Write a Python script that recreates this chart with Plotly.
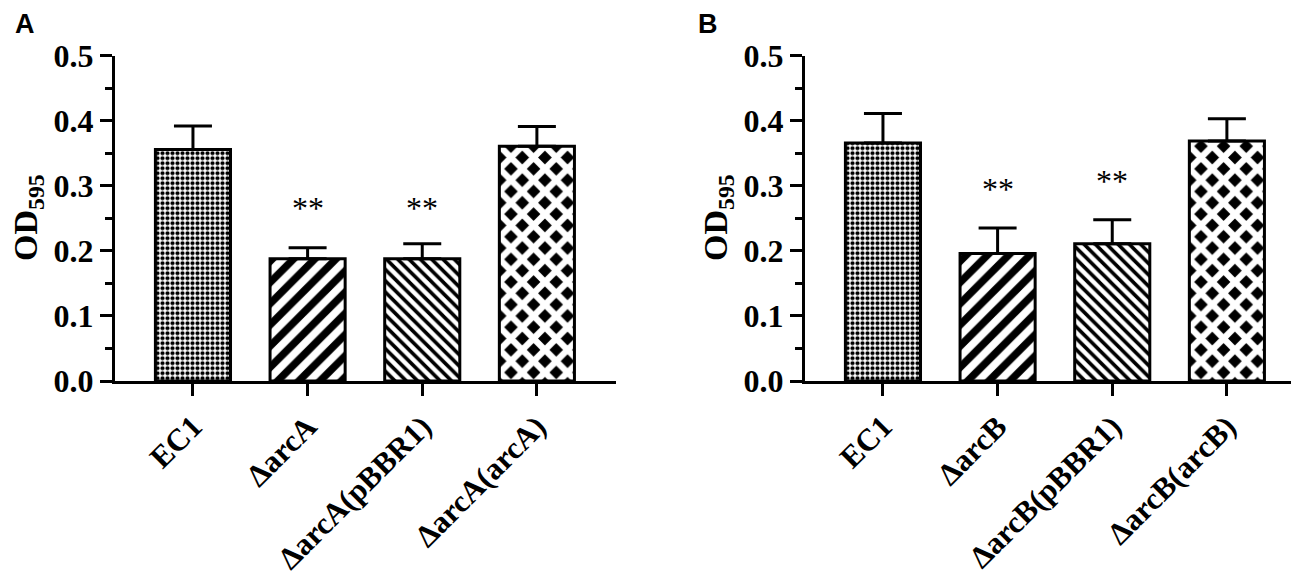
import plotly.graph_objects as go

# ---- data ----
labels_a = ["EC1", "ΔarcA", "ΔarcA(pBBR1)", "ΔarcA(arcA)"]
values_a = [0.356, 0.188, 0.188, 0.361]
errors_a = [0.036, 0.017, 0.023, 0.030]
stars_a = ["", "**", "**", ""]
star_y_a = [None, 0.262, 0.262, None]

labels_b = ["EC1", "ΔarcB", "ΔarcB(pBBR1)", "ΔarcB(arcB)"]
values_b = [0.366, 0.196, 0.211, 0.369]
errors_b = [0.045, 0.039, 0.037, 0.034]
stars_b = ["", "**", "**", ""]
star_y_b = [None, 0.290, 0.303, None]

y_ticks = [0.0, 0.1, 0.2, 0.3, 0.4, 0.5]
y_ticktext = ["0.0", "0.1", "0.2", "0.3", "0.4", "0.5"]

W, H = 1299, 580
SERIF = "Liberation Serif, Times New Roman, serif"

patterns = [
    dict(shape=".", size=5, solidity=0.55, fgcolor="black", bgcolor="white", fillmode="replace"),
    dict(shape="/", size=15, solidity=0.5, fgcolor="black", bgcolor="white", fillmode="replace"),
    dict(shape="\\", size=8, solidity=0.45, fgcolor="black", bgcolor="white", fillmode="replace"),
    dict(shape="x", size=16, solidity=0.64, fgcolor="white", bgcolor="black", fillmode="replace"),
]

fig = go.Figure()

def add_panel(labels, values, errors, xa, ya):
    for i, (lab, v, e) in enumerate(zip(labels, values, errors)):
        fig.add_trace(go.Bar(
            x=[i], y=[v], width=0.655,
            marker=dict(color="white", pattern=patterns[i],
                        line=dict(color="black", width=3)),
            error_y=dict(type="data", symmetric=False, array=[e], arrayminus=[0],
                         color="black", thickness=3, width=19),
            xaxis=xa, yaxis=ya, showlegend=False, hoverinfo="skip",
        ))

add_panel(labels_a, values_a, errors_a, "x", "y")
add_panel(labels_b, values_b, errors_b, "x2", "y2")

ydom = [1 - 373 / H, 1 - 47.7 / H]
xdom_a = [107 / W, 608 / W]
xdom_b = [797 / W, 1298 / W]

def xaxis_cfg(dom, labels):
    return dict(domain=dom, range=[-0.68, 3.69], tickvals=[0, 1, 2, 3], ticktext=labels,
                tickangle=-45, showline=True, linecolor="black", linewidth=3,
                ticks="outside", ticklen=12, tickwidth=3, tickcolor="black",
                showgrid=False, zeroline=False, automargin=False, fixedrange=True,
                tickfont=dict(family=SERIF, size=31, color="black", weight="bold"))

def yaxis_cfg(anchor):
    return dict(domain=ydom, range=[0, 0.5], tickvals=y_ticks, ticktext=y_ticktext,
                showline=True, linecolor="black", linewidth=3,
                ticks="outside", ticklen=12, tickwidth=3, tickcolor="black",
                minor=dict(dtick=0.05, ticks="outside", ticklen=7, tickwidth=3,
                           tickcolor="black", showgrid=False),
                showgrid=False, zeroline=False, automargin=False, fixedrange=True,
                anchor=anchor,
                tickfont=dict(family=SERIF, size=32, color="black", weight="bold"))

fig.update_layout(
    width=W, height=H, margin=dict(l=0, r=0, t=0, b=0),
    paper_bgcolor="white", plot_bgcolor="white", bargap=0.3,
    xaxis=xaxis_cfg(xdom_a, labels_a), yaxis=yaxis_cfg("x"),
    xaxis2=dict(xaxis_cfg(xdom_b, labels_b), anchor="y2"),
    yaxis2=yaxis_cfg("x2"),
)
fig.layout.xaxis.anchor = "y"

ann = []
for i, (s, yy) in enumerate(zip(stars_a, star_y_a)):
    if s:
        ann.append(dict(x=i, y=yy, xref="x", yref="y", text=s, showarrow=False,
                        yanchor="middle", yshift=3,
                        font=dict(family=SERIF, size=32, color="black")))
for i, (s, yy) in enumerate(zip(stars_b, star_y_b)):
    if s:
        ann.append(dict(x=i, y=yy, xref="x2", yref="y2", text=s, showarrow=False,
                        yanchor="middle", yshift=3,
                        font=dict(family=SERIF, size=32, color="black")))
for txt, px in [("A", 17), ("B", 700)]:
    ann.append(dict(x=px / W, y=1 - 16 / H, xref="paper", yref="paper", text=txt,
                    showarrow=False, xanchor="center", yanchor="middle",
                    font=dict(family="Liberation Sans, Arial, sans-serif", size=27,
                              color="black", weight="bold")))
for px in [20, 710]:
    ann.append(dict(x=px / W, y=1 - 210 / H, xref="paper", yref="paper",
                    text="OD<sub>595</sub>", textangle=-90, showarrow=False,
                    xanchor="center", yanchor="middle",
                    font=dict(family=SERIF, size=34, color="black", weight="bold")))
fig.update_layout(annotations=ann)

fig.write_html("out.html")
